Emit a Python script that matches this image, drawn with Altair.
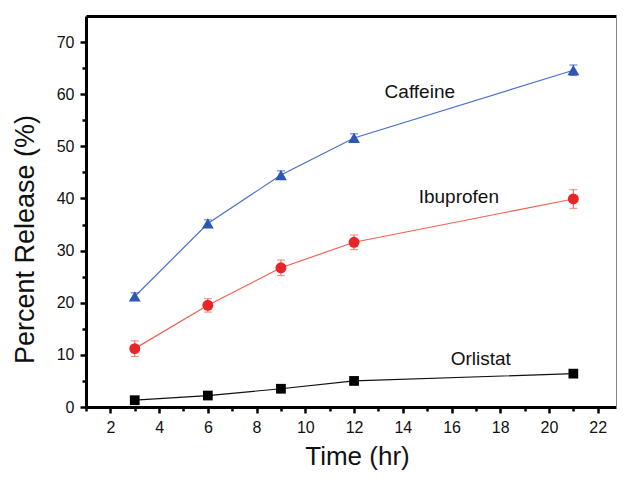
import altair as alt
import pandas as pd

time = [3, 6, 9, 12, 21]
caffeine = [21.2, 35.2, 44.5, 51.6, 64.6]
caffeine_err = [0.7, 0.7, 0.8, 0.8, 1.0]
ibuprofen = [11.2, 19.5, 26.7, 31.6, 39.9]
ibuprofen_err = [1.5, 1.3, 1.5, 1.4, 1.8]
orlistat = [1.3, 2.2, 3.5, 5.0, 6.4]

label_names = ["Caffeine", "Ibuprofen", "Orlistat"]
label_x = [14.7, 16.3, 17.2]
label_y = [60.5, 40.2, 9.2]

x_major = list(range(2, 23, 2))
x_minor = list(range(1, 23, 2))
y_major = list(range(0, 75, 10))
y_minor = list(range(5, 75, 10))

FONT = "Liberation Sans"

def series_df(vals, errs):
    return pd.DataFrame({
        "t": time, "v": vals,
        "lo": [v - e for v, e in zip(vals, errs)],
        "hi": [v + e for v, e in zip(vals, errs)],
    })

caf = series_df(caffeine, caffeine_err)
ibu = series_df(ibuprofen, ibuprofen_err)
orl = pd.DataFrame({"t": time, "v": orlistat})
labels = pd.DataFrame({"name": label_names, "x": label_x, "y": label_y})

xscale = alt.Scale(domain=[1, 22.75], nice=False, zero=False)
yscale = alt.Scale(domain=[0, 75], nice=False, zero=False)

xaxis = alt.Axis(
    values=x_major, title="Time (hr)", grid=False, labelOverlap=False,
    tickSize=6, labelPadding=6, labelFlush=False,
    domainWidth=3, domainColor="black", tickColor="black", tickWidth=2.5,
    labelFont=FONT, labelFontSize=16, labelColor="#111",
    titleFont=FONT, titleFontSize=26, titleFontWeight="normal", titleColor="#111",
    titleBaseline="alphabetic", titleY=57, titleX=271,
)
yaxis = alt.Axis(
    values=y_major, title="Percent Release (%)", grid=False, labelOverlap=False,
    tickSize=6, labelPadding=6, labelFlush=False,
    domainWidth=3, domainColor="black", tickColor="black", tickWidth=2.5,
    labelFont=FONT, labelFontSize=16, labelColor="#111",
    titleFont=FONT, titleFontSize=27, titleFontWeight="normal", titleColor="#111",
    titleBaseline="middle", titleX=-61, titleY=223,
)

X = alt.X("t:Q", scale=xscale, axis=xaxis)
Y = alt.Y("v:Q", scale=yscale, axis=yaxis)

def series(df, color, linecolor, shape, size, errcolor=None):
    layers = [
        alt.Chart(df).mark_line(color=linecolor, strokeWidth=1.2).encode(x=X, y=Y),
    ]
    if errcolor is not None:
        layers.append(alt.Chart(df).mark_rule(color=errcolor, strokeWidth=1.2).encode(
            x="t:Q", y="lo:Q", y2="hi:Q"))
        layers.append(alt.Chart(df).mark_tick(color=errcolor, thickness=1.2, size=8, orient="horizontal").encode(
            x="t:Q", y="lo:Q"))
        layers.append(alt.Chart(df).mark_tick(color=errcolor, thickness=1.2, size=8, orient="horizontal").encode(
            x="t:Q", y="hi:Q"))
    layers.append(alt.Chart(df).mark_point(shape=shape, filled=True, color=color, size=size, opacity=1).encode(
        x="t:Q", y="v:Q"))
    return layers

main_layers = []
main_layers += series(caf, "#2f55b5", "#4a6fd0", "triangle-up", 140, "#2f55b5")
main_layers += series(ibu, "#e8262a", "#f2604e", "circle", 120, "#f07060")
main_layers += series(orl, "#000000", "#111111", "square", 95)

text = alt.Chart(labels).mark_text(font=FONT, fontSize=19, color="#111").encode(
    x="x:Q", y="y:Q", text="name:N")

main = alt.layer(*main_layers, text)

minor = alt.Chart(orl).mark_point(opacity=0).encode(
    x=alt.X("t:Q", scale=xscale, axis=alt.Axis(orient="bottom", values=x_minor, labels=False, domain=False,
                                              tickSize=4, tickWidth=2.5, tickColor="black", title=None, grid=False)),
    y=alt.Y("v:Q", scale=yscale, axis=alt.Axis(orient="left", values=y_minor, labels=False, domain=False,
                                              tickSize=4, tickWidth=2.5, tickColor="black", title=None, grid=False)),
)

frame = alt.Chart(orl).mark_point(opacity=0).encode(
    x=alt.X("t:Q", scale=xscale, axis=alt.Axis(orient="top", labels=False, ticks=False, title=None,
                                              grid=False, domainWidth=3, domainColor="black")),
    y=alt.Y("v:Q", scale=yscale, axis=alt.Axis(orient="right", labels=False, ticks=False, title=None,
                                              grid=False, domainWidth=1, domainColor="#888")),
)

chart = alt.layer(main, minor, frame).resolve_axis(x="independent", y="independent").properties(
    width=530, height=391,
    autosize=alt.AutoSizeParams(type="none"),
    padding={"left": 78, "top": 8, "right": 1, "bottom": 66},
).configure_view(stroke=None).configure(background="white")

chart.save("out.html", embed_options={"renderer": "svg", "actions": False})
